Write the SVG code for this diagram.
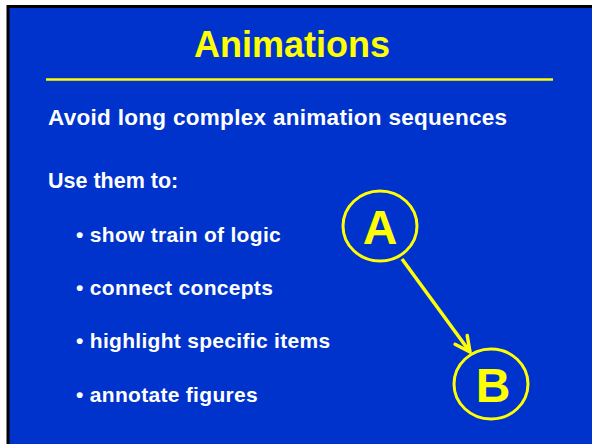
<svg xmlns="http://www.w3.org/2000/svg" width="592" height="444" viewBox="0 0 592 444">
<defs>
<style>
.t{font-family:"Liberation Sans",Arial,sans-serif;font-weight:bold;fill:#ffffff}
.b{letter-spacing:0.3px}
.y{fill:#ffff00}
.ring{fill:none;stroke:#ffff00;stroke-width:3}
</style>
<marker id="ah" markerUnits="userSpaceOnUse" markerWidth="24" markerHeight="24" viewBox="-20 -12 24 24" refX="0" refY="0" orient="auto">
<path d="M-15,-7.5 L0,0 L-15,7.5" fill="none" stroke="#ffff00" stroke-width="3.5" stroke-linecap="round" stroke-linejoin="round"/>
</marker>
</defs>
<rect x="0" y="0" width="592" height="444" fill="#ffffff"/>
<rect x="6.5" y="5" width="586" height="440" fill="#000000"/>
<rect x="9.5" y="8" width="583" height="437" fill="#0033cc"/>
<text class="t y" x="292" y="57" font-size="36" text-anchor="middle">Animations</text>
<line x1="46" y1="79.5" x2="553" y2="79.5" stroke="#ffff00" stroke-width="2.5"/>
<text class="t b" x="48" y="125" font-size="22.5">Avoid long complex animation sequences</text>
<text class="t" x="48" y="188" font-size="21.5">Use them to:</text>
<text class="t b" x="76" y="242" font-size="21">• show train of logic</text>
<text class="t b" x="76" y="295" font-size="21">• connect concepts</text>
<text class="t b" x="76" y="348" font-size="21">• highlight specific items</text>
<text class="t b" x="76" y="402" font-size="21">• annotate figures</text>
<g id="connectors">
<line x1="402" y1="259" x2="470" y2="352" stroke="#ffff00" stroke-width="3.5" marker-end="url(#ah)"/>
</g>
<g id="nodeA">
<ellipse class="ring" cx="380" cy="226" rx="37" ry="35"/>
<text class="t y" x="380" y="244" font-size="48" text-anchor="middle">A</text>
</g>
<g id="nodeB">
<ellipse class="ring" cx="491" cy="384" rx="37" ry="35"/>
<text class="t y" x="493" y="402" font-size="48" text-anchor="middle">B</text>
</g>
</svg>
